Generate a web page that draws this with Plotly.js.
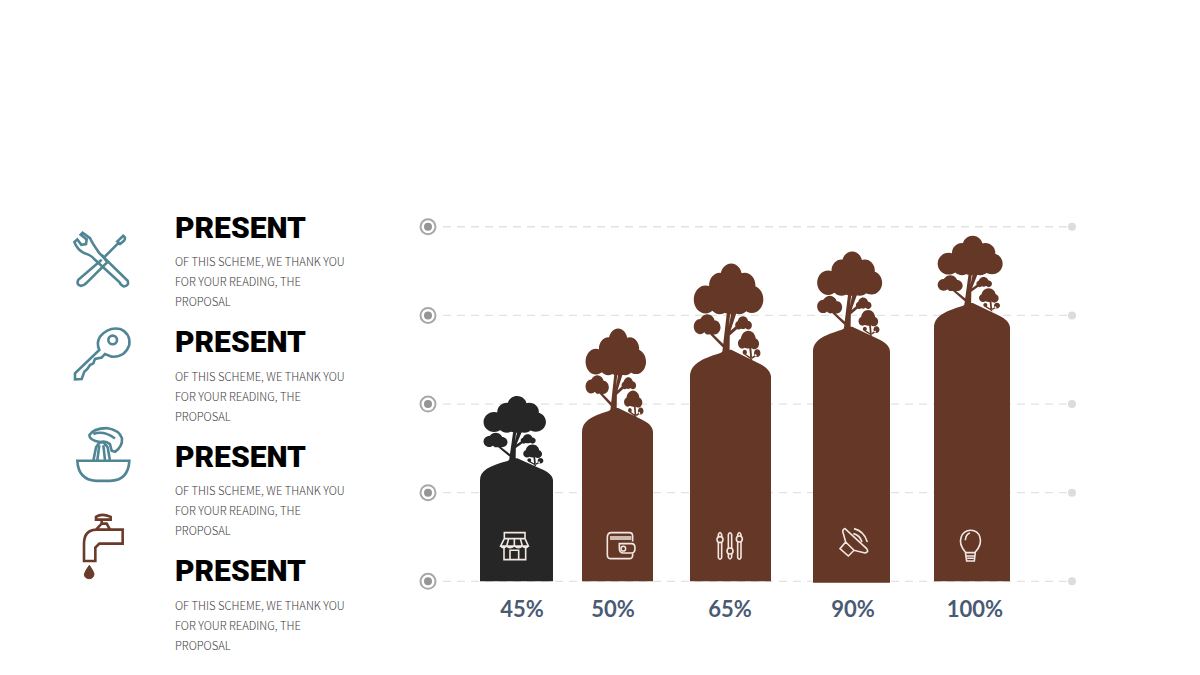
<!DOCTYPE html>
<html><head><meta charset="utf-8">
<script src="https://cdn.plot.ly/plotly-3.0.0.min.js"></script>
<style>html,body{margin:0;padding:0;background:#fff}#c{width:1200px;height:675px}</style>
</head><body><div id="c"></div>
<script>
// ---- data ----
const categories = ['A','B','C','D','E'];
const percentLabels = ['45%','50%','65%','90%','100%'];
const peakHeights = [34.7,48.9,65.3,71.8,78.5];
const shoulderHeights = [28.5,42.1,57.6,64.7,71.5];
const gridValues = [0,25,50,75,100];
const headings = ['PRESENT','PRESENT','PRESENT','PRESENT'];
const bodyLines = ['OF THIS SCHEME, WE THANK YOU','FOR YOUR READING, THE','PROPOSAL'];

// ---- layout constants (page pixels) ----
const PL=400,PR=1100,PT=209.3,PB=591.62;      // plot area
const YMIN=-3,YMAX=105;
const GRID_X0=443,GRID_X1=1072,RING_X=428;
const barCenters=[516.5,617.5,730.5,851.5,972];
const barWidths=[73,71,81,77,76];
const barBases=[0,0,0,-0.4,0];
const treeKx=[.96,.93,1.07,1,1];
const treeKy=[.916,1.167,1.27,1.108,.99];
const labelCenters=[522,613,730,853,975];
const barColors=['#262626','#653726','#653726','#653726','#653726'];
const GRID='#e2e2e2', TEAL='#4f8594', BROWN='#6a3b29', ICON='#f2e8e2';

const fx=px=>(px-PL)/(PR-PL), fy=py=>(PB-py)/(PB-PT);
const num=/(-?[\d.]+)[ ,](-?[\d.]+)/g;
// icon path drawn in 3x zoom coordinates -> paper coordinates
const toPaper=(s,ox,oy)=>s.replace(num,(m,a,b)=>fx(ox+a/3)+','+fy(oy+b/3));
const icon=(s,ox,oy,color,w,fill)=>({type:'path',xref:'paper',yref:'paper',path:toPaper(s,ox,oy),
  line:{color:color,width:w},fillcolor:fill||'rgba(0,0,0,0)',fillrule:'nonzero',layer:'above'});
const circ=(x,y,r)=>{const k=.5523*r;return `M${x-r},${y} C${x-r},${y-k} ${x-k},${y-r} ${x},${y-r} C${x+k},${y-r} ${x+r},${y-k} ${x+r},${y} C${x+r},${y+k} ${x+k},${y+r} ${x},${y+r} C${x-k},${y+r} ${x-r},${y+k} ${x-r},${y} Z `;};

// tree silhouette, authored relative to the crown of one tree
const treeCircles=[[907,76,30],[875,98,30],[945,98,30],[835,131,33],[965,131,32],[875,136,30],[930,136,30],[905,122,44],
 [840,188,22],[820,195,18],[860,197,17],[842,202,12],[940,186,15],[928,192,10],[955,192,10],
 [955,226,21],[938,235,12],[972,236,13],[945,256,6],[980,258,9]];
const treeSolid=['M880,270 L895,160 L905,160 L900,195 L908,160 L922,162 L905,205 L925,190 L930,196 L903,216 L902,270 Z',
 'M850,208 L887,238 L885,246 L846,212 Z','M957,240 L963,240 L966,276 L961,274 Z','M945,258 L962,268 L961,272 L944,262 Z','M976,260 L964,268 L965,272 L979,264 Z'];
function treePath(kx,ky){
  const raw=treeCircles.map(c=>circ(c[0],c[1],c[2])).join('')+treeSolid.join(' ');
  return raw.replace(num,(m,a,b)=>((a-905)/3*kx)+','+((250-b)/3*ky));
}
function domePath(i){
  const c=barCenters[i],w=barWidths[i]/2,h=(peakHeights[i]-shoulderHeights[i])*(PB-PT)/(YMAX-YMIN);
  // x in axis units, y in pixels over the shoulder
  return `M${c-w},-1 L${c-w},0 C${c-w},${h*.45} ${c-w*.75},${h*.65} ${c-w*.25},${h*.88} L${c-w*.12},${h} L${c+w*.02},${h} L${c+w*.68},${h*.52} C${c+w*.86},${h*.4} ${c+w},${h*.22} ${c+w},0 L${c+w},-1 Z`;
}
const shapes=[];
gridValues.forEach(v=>shapes.push({type:'line',xref:'x',yref:'y',x0:GRID_X0,x1:GRID_X1,y0:v,y1:v,layer:'below',
  line:{color:GRID,width:1.3,dash:'8px,6px'}}));
categories.forEach((_,i)=>{
  shapes.push({type:'path',xref:'x',yref:'y',ysizemode:'pixel',yanchor:shoulderHeights[i],path:domePath(i),
    fillcolor:barColors[i],line:{width:0}});
  shapes.push({type:'path',xref:'x',yref:'y',xsizemode:'pixel',ysizemode:'pixel',xanchor:barCenters[i],yanchor:peakHeights[i],
    path:treePath(treeKx[i],treeKy[i]),fillcolor:barColors[i],fillrule:'nonzero',line:{width:0}});
});
// white icons inside the bars
const z1=[410,380], z5=[680,500];
[
 ['M283,457 L345,457 L345,475 L283,475 Z M283,475 L272,497 L355,497 L345,475 M272,497 Q280,507 290,497 Q299,507 313,497 Q326,507 337,497 Q347,507 355,497 M296,475 L290,497 M313,475 L313,497 M331,475 L337,497 M282,504 L282,538 L347,538 L347,504 M300,538 L300,510 L326,510 L326,538',z1],
 ['M602,457 L658,457 Q668,457 668,468 L668,484 M592,472 Q592,457 604,457 M592,472 L592,524 Q592,535 603,535 L658,535 Q668,535 668,524 L668,518 M628,490 L665,490 Q675,490 675,503 Q675,518 665,518 L640,518 Q628,518 628,504 Z M600,470 L664,470 M600,476 L664,476',z1],
 ['M115,103 Q120,90 125,103 L125,172 Q120,182 115,172 Z M145,103 Q150,92 155,103 L155,170 Q150,182 145,170 Z M173,103 Q178,90 183,103 L183,172 Q178,182 173,172 Z',z5],
 ['M495,85 Q485,88 490,100 L497,125 L480,145 L505,167 L522,150 L555,158 Q568,155 560,145 Z M522,85 Q552,92 562,125 M520,100 Q540,105 546,125 M497,125 L522,150',z5],
 ['M856,155 C828,125 845,90 872,90 C900,90 914,125 886,155 L883,182 L860,182 Z M857,157 L885,157 M860,167 L883,167 M862,174 L881,174 M856,120 Q857,102 870,98',z5]
].forEach(d=>shapes.push(icon(d[0],d[1][0],d[1][1],ICON,1.6)));
[[120,118],[150,152],[178,116]].forEach(c=>shapes.push(icon(circ(c[0],c[1],9),680,500,ICON,1.6,'#653726')));
shapes.push(icon(circ(640,505,7),410,380,ICON,1.5));

// left column icons
const z3=[60,205], z4=[60,420];
[
 ['M190,93 Q199,99 192,108 L180,118 L172,110 Z M178,112 L130,160 M125,165 L55,225 Q48,240 62,243 Q72,243 82,232 L142,172 L125,150',z3,TEAL],
 ['M68,84 L90,100 Q98,118 118,145 L203,228 Q208,242 192,245 Q184,243 178,232 L105,165 Q92,150 72,145 Q52,135 43,112 L52,104 L64,120 L78,118 L80,104 L62,90 Z',z3,TEAL],
 ['M120,395 Q145,365 180,372 Q212,385 208,420 Q195,458 155,455 L135,447 L125,458 L105,462 L100,475 L90,480 L82,492 L73,500 L65,522 L45,523 L45,505 L118,435 Q108,415 120,395 Z',z3,TEAL],
 [circ(158,405,13),z3,TEAL],
 ['M52,122 L208,122 Q205,180 150,182 L108,182 Q55,178 52,122 Z M100,122 L108,82 Q125,50 143,82 L150,122 M112,120 L118,75 M130,75 L135,120',z4,TEAL],
 ['M122,66 Q88,62 88,45 Q100,25 140,24 Q178,30 186,55 Q188,80 165,95 L155,92 L150,72 Q135,60 122,66 Z M100,42 Q130,30 165,55',z4,TEAL],
 ['M108,290 Q125,278 152,290 L152,298 L108,298 Z M125,298 L125,310 L108,328 L188,328 L188,370 L118,370 L106,382 L106,422 L72,422 L72,370 Q72,330 108,328 M125,310 L140,310 L150,328',z4,BROWN]
].forEach(d=>shapes.push(icon(d[0],d[1][0],d[1][1],d[2],2.6)));
shapes.push(icon('M88,435 Q102,455 102,462 Q100,475 88,475 Q74,475 73,462 Q75,452 88,435 Z',60,420,BROWN,1,BROWN));

// left column text
const annotations=[];
headings.forEach((h,i)=>{
  annotations.push({xref:'paper',yref:'paper',x:fx(172.5),y:fy(228+114*i),xanchor:'left',yanchor:'middle',showarrow:false,text:h,
    font:{family:'Roboto',size:30,color:'#000',weight:900}});
  bodyLines.forEach((t,j)=>annotations.push({xref:'paper',yref:'paper',x:fx(172.5),y:fy(261.5+114.3*i+20*j),xanchor:'left',yanchor:'middle',showarrow:false,text:t,
    font:{family:'Noto Sans CJK SC',size:11.2,color:'#3c3c3c',weight:300}}));
});

const ringX=gridValues.map(()=>RING_X), endX=gridValues.map(()=>GRID_X1);
const traces=[
 {type:'bar',x:barCenters,y:shoulderHeights.map((v,i)=>v-barBases[i]),base:barBases,width:barWidths,
  marker:{color:barColors,line:{width:0}},text:categories,textposition:'none',hoverinfo:'skip'},
 {type:'scatter',mode:'markers',x:ringX,y:gridValues,cliponaxis:false,hoverinfo:'skip',
  marker:{size:15,color:'#fff',line:{color:'#a8a8a8',width:2}}},
 {type:'scatter',mode:'markers',x:ringX,y:gridValues,cliponaxis:false,hoverinfo:'skip',
  marker:{size:8,color:'#959595'}},
 {type:'scatter',mode:'markers',x:endX,y:gridValues,cliponaxis:false,hoverinfo:'skip',
  marker:{size:8,color:'#dcdcdc'}}
];
const layout={
  width:1200,height:675,showlegend:false,paper_bgcolor:'#fff',plot_bgcolor:'#fff',
  margin:{l:PL,r:1200-PR,t:PT,b:675-PB,pad:0},
  xaxis:{range:[PL,PR],showgrid:false,zeroline:false,showline:false,tickmode:'array',tickvals:labelCenters,ticktext:percentLabels,
    ticks:'',ticklabelstandoff:2,tickfont:{family:'Lato',size:22,color:'#4a5a72',weight:700},fixedrange:true},
  yaxis:{range:[YMIN,YMAX],showticklabels:false,ticks:'',zeroline:false,showline:false,showgrid:false,fixedrange:true},
  shapes:shapes,annotations:annotations
};
Plotly.newPlot('c',traces,layout,{staticPlot:true,displayModeBar:false});
</script></body></html>
